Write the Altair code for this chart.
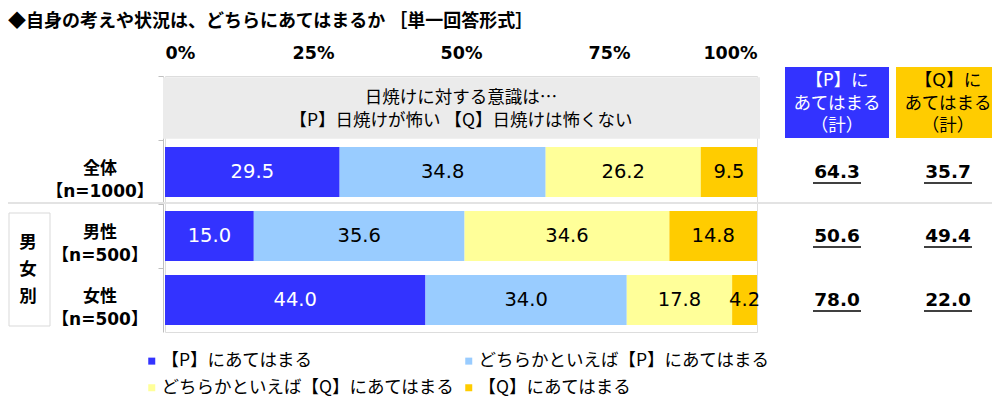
import altair as alt
import pandas as pd

# ---- data ----
title_text = "◆自身の考えや状況は、どちらにあてはまるか ［単一回答形式］"
header_lines = ["日焼けに対する意識は…", "【P】日焼けが怖い 【Q】日焼けは怖くない"]
groups = ["全体", "男性", "女性"]
group_n = ["【n=1000】", "【n=500】", "【n=500】"]
answers = ["【P】にあてはまる", "どちらかといえば【P】にあてはまる",
           "どちらかといえば【Q】にあてはまる", "【Q】にあてはまる"]
colors = ["#3333FF", "#99CCFF", "#FFFF99", "#FFCC00"]
p_strong = [29.5, 15.0, 44.0]
p_weak = [34.8, 35.6, 34.0]
q_weak = [26.2, 34.6, 17.8]
q_strong = [9.5, 14.8, 4.2]
p_total = [64.3, 50.6, 78.0]
q_total = [35.7, 49.4, 22.0]
tick_values = [0, 25, 50, 75, 100]
p_head = ["【P】に", "あてはまる", "（計）"]
q_head = ["【Q】に", "あてはまる", "（計）"]
side_group = ["男", "女", "別"]

CJK = "Noto Sans CJK JP"
MIX = "DejaVu Sans, Noto Sans CJK JP"
rows = ["header"] + groups
W, H = 592, 256

recs = []
series = [p_strong, p_weak, q_weak, q_strong]
for gi, g in enumerate(groups):
    for ai, a in enumerate(answers):
        recs.append({"row": g, "answer": a, "order": ai, "value": series[ai][gi]})
df = pd.DataFrame(recs)

xscale = alt.Scale(domain=[0, 100], nice=False, zero=False)
yscale = alt.Scale(domain=rows, paddingInner=0, paddingOuter=0)
xaxis = alt.Axis(orient="top", values=tick_values, labelExpr="datum.value + '%'",
                 labelFontSize=17.5, labelFontWeight="bold", labelColor="#000000",
                 ticks=False, domain=False, grid=False, labelPadding=14, title=None,
                 labelFont="DejaVu Sans")
yaxis = alt.Axis(labels=False, title=None, domainColor="#BFBFBF", tickColor="#BFBFBF",
                 tickSize=5, bandPosition=0, offset=2, grid=False)

stacked = alt.Chart(df).transform_stack(
    stack="value", groupby=["row"], as_=["x0", "x1"], sort=[alt.SortField("order")]
)

bars = stacked.mark_bar(height={"band": 0.78}).encode(
    x=alt.X("x0:Q", scale=xscale, axis=xaxis),
    x2="x1:Q",
    y=alt.Y("row:N", scale=yscale, axis=yaxis),
    color=alt.Color("answer:N", scale=alt.Scale(domain=answers, range=colors),
                    legend=alt.Legend(title=None, orient="none", legendX=-22, legendY=276,
                                      columns=2, direction="horizontal",
                                      symbolType="square", symbolSize=49,
                                      symbolStrokeWidth=0, labelFontSize=17.5,
                                      labelFont=CJK, labelColor="#000000",
                                      columnPadding=5, rowPadding=8, labelOffset=1,
                                      labelLimit=400)),
)

bar_text = stacked.transform_calculate(mid="(datum.x0 + datum.x1) / 2").mark_text(
    fontSize=19.5, font="DejaVu Sans"
).encode(
    x=alt.X("mid:Q", scale=xscale),
    y=alt.Y("row:N", scale=yscale),
    text=alt.Text("value:Q", format=".1f"),
    color=alt.condition(alt.datum.order == 0, alt.value("#FFFFFF"), alt.value("#000000")),
)

one = pd.DataFrame({"k": [0]})

title_mark = alt.Chart(pd.DataFrame({"txt": [title_text]})).mark_text(
    fontSize=18, font=CJK, fontWeight="bold", color="#000000", align="left",
    baseline="middle"
).encode(x=alt.value(-157), y=alt.value(-54), text="txt")

header_df = pd.DataFrame({"row": ["header"], "txt": [header_lines]})
header_rect = alt.Chart(header_df).mark_bar(height={"band": 0.96}, color="#EBEBEB").encode(
    x=alt.value(-2), x2=alt.value(595), y=alt.Y("row:N", scale=yscale)
)
header_txt = alt.Chart(header_df).mark_text(fontSize=17.5, font=CJK, lineHeight=22.5,
                                            color="#000000", dy=-10).encode(
    x=alt.value(W / 2), y=alt.Y("row:N", scale=yscale), text="txt"
)

label_df = pd.DataFrame({"row": groups, "txt": [[g, n] for g, n in zip(groups, group_n)]})
left_labels = alt.Chart(label_df).mark_text(fontSize=17, font=MIX, fontWeight="bold",
                                            lineHeight=23, color="#000000", dy=-3).encode(
    x=alt.value(-65), y=alt.Y("row:N", scale=yscale), text="txt"
)

sep = alt.Chart(one).mark_rule(color="#E3E3E3", strokeWidth=2).encode(
    x=alt.value(-165), x2=alt.value(833), y=alt.value(127)
)

side_box = alt.Chart(one).mark_rect(fill="#FFFFFF", stroke="#D9D9D9", strokeWidth=1).encode(
    x=alt.value(-156), x2=alt.value(-115), y=alt.value(137), y2=alt.value(250)
)
side_txt = alt.Chart(pd.DataFrame({"txt": [side_group]})).mark_text(
    fontSize=17.5, font=CJK, fontWeight="bold", lineHeight=27, color="#000000", dy=-27
).encode(x=alt.value(-137), y=alt.value(194), text="txt")

P_X, Q_X = 672, 783
boxes = alt.Chart(pd.DataFrame({
    "x": [P_X - 52, Q_X - 52], "x2": [P_X + 52, Q_X + 52], "c": ["P", "Q"]
})).mark_rect().encode(
    x=alt.X("x:Q", scale=None), x2="x2:Q", y=alt.value(-9), y2=alt.value(62),
    color=alt.Color("c:N", scale=alt.Scale(domain=["P", "Q"], range=[colors[0], colors[3]]),
                    legend=None),
)
box_txt = alt.Chart(pd.DataFrame({
    "x": [P_X, Q_X], "txt": [p_head, q_head], "c": ["P", "Q"]
})).mark_text(fontSize=17.5, font=MIX, lineHeight=22.5, dy=-21).encode(
    x=alt.X("x:Q", scale=None), y=alt.value(26), text="txt",
    color=alt.Color("c:N", scale=alt.Scale(domain=["P", "Q"], range=["#FFFFFF", "#000000"]),
                    legend=None),
)

tot_recs = []
for gi, g in enumerate(groups):
    tot_recs.append({"row": g, "x": P_X, "v": p_total[gi]})
    tot_recs.append({"row": g, "x": Q_X, "v": q_total[gi]})
tot_df = pd.DataFrame(tot_recs)
tot_txt = alt.Chart(tot_df).mark_text(fontSize=18.5, font="DejaVu Sans", fontWeight="bold",
                                      color="#000000").encode(
    x=alt.X("x:Q", scale=None), y=alt.Y("row:N", scale=yscale),
    text=alt.Text("v:Q", format=".1f"),
)
tot_line = alt.Chart(tot_df).transform_calculate(
    xa="datum.x - 24", xb="datum.x + 24"
).mark_rule(color="#000000", strokeWidth=1.5, yOffset=11).encode(
    x=alt.X("xa:Q", scale=None), x2="xb:Q", y=alt.Y("row:N", scale=yscale),
)

chart = alt.layer(
    sep, title_mark, header_rect, header_txt, bars, bar_text, left_labels, side_box,
    side_txt, boxes, box_txt, tot_txt, tot_line
).resolve_scale(color="independent").properties(
    width=W, height=H,
    autosize=alt.AutoSizeParams(type="none"),
    padding={"left": 157, "top": 68, "right": 235, "bottom": 67},
).configure_view(strokeWidth=0).configure(font=CJK)

chart.save("out.html", embed_options={"renderer": "svg", "actions": False})
